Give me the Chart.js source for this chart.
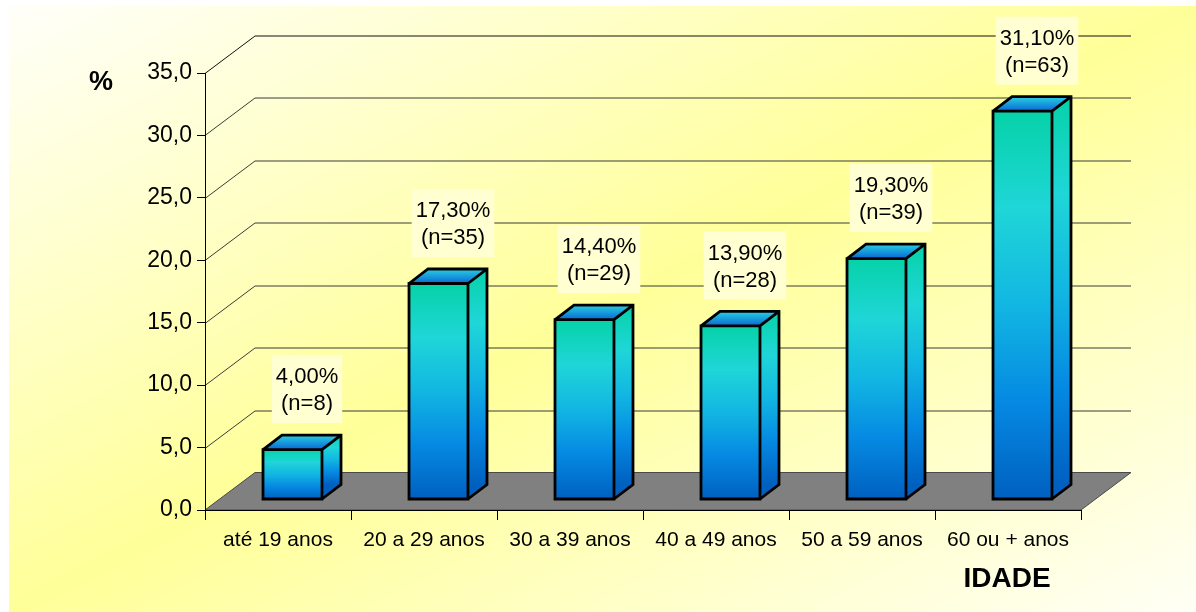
<!DOCTYPE html>
<html>
<head>
<meta charset="utf-8">
<style>
  html, body { margin: 0; padding: 0; background: #ffffff; }
  #wrap { width: 1196px; height: 612px; }
</style>
<script src="https://cdn.jsdelivr.net/npm/chart.js@4.4.1/dist/chart.umd.min.js"></script>
</head>
<body>
<div id="wrap"><canvas id="chart" width="1196" height="612"></canvas></div>
<script>
// Age groups and their share of respondents
const categories = ['até 19 anos', '20 a 29 anos', '30 a 39 anos', '40 a 49 anos', '50 a 59 anos', '60 ou + anos'];
const percentValues = [4.0, 17.3, 14.4, 13.9, 19.3, 31.1];
const counts = [8, 35, 29, 28, 39, 63];
const yTickValues = [0, 5, 10, 15, 20, 25, 30, 35];
const yAxisLabel = '%';
const xAxisLabel = 'IDADE';

const FONT = "'Liberation Sans', Arial, Helvetica, sans-serif";

// Depth of the 3D box (back wall offset) and of each bar
const WALL_DX = 50, WALL_DY = -37.5;
const BAR_FRONT_DX = 14.5, BAR_FRONT_DY = -10.5;
const BAR_SIDE_DX = 19, BAR_SIDE_DY = -14.5;

const fmtTick = v => v.toFixed(1).replace('.', ',');
const fmtPct = v => v.toFixed(2).replace('.', ',') + '%';

const backdropPlugin = {
  id: 'backdrop3d',
  beforeDraw(chart) {
    const { ctx, chartArea, scales } = chart;
    const W = chart.width, H = chart.height;
    ctx.save();
    // page background with diagonal pale-yellow band
    ctx.fillStyle = '#ffffff';
    ctx.fillRect(0, 0, W, H);
    const x0 = 9, y0 = 6, x1 = W, y1 = H;
    const cx = (x0 + x1) / 2, cy = (y0 + y1) / 2;
    const w = x1 - x0, h = y1 - y0;
    const len = Math.hypot(w, h);
    const ux = h / len, uy = w / len;
    const half = (w / 2) * ux + (h / 2) * uy;
    const g = ctx.createLinearGradient(cx - half * ux, cy - half * uy, cx + half * ux, cy + half * uy);
    g.addColorStop(0, '#fffffa');
    g.addColorStop(0.5, '#ffff99');
    g.addColorStop(1, '#fffff6');
    ctx.fillStyle = g;
    ctx.fillRect(x0, y0, w, h);

    const ys = scales.y;
    const left = chartArea.left, right = chartArea.right;
    // horizontal gridlines running along the side wall and back wall
    ctx.lineWidth = 1;
    yTickValues.forEach(v => {
      if (v === 0) return;
      const y = Math.round(ys.getPixelForValue(v)) + 0.5;
      ctx.strokeStyle = v === 35 ? '#111111' : '#3a3a3a';
      ctx.beginPath();
      ctx.moveTo(left, y);
      ctx.lineTo(left + WALL_DX, y + WALL_DY);
      ctx.lineTo(right + WALL_DX, y + WALL_DY);
      ctx.stroke();
    });

    // grey floor
    const yb = ys.getPixelForValue(0);
    ctx.fillStyle = '#808080';
    ctx.strokeStyle = '#4a4a4a';
    ctx.beginPath();
    ctx.moveTo(left, yb);
    ctx.lineTo(left + WALL_DX, yb + WALL_DY);
    ctx.lineTo(right + WALL_DX, yb + WALL_DY);
    ctx.lineTo(right, yb);
    ctx.closePath();
    ctx.fill();
    ctx.stroke();
    ctx.restore();
  }
};

function faceGradient(ctx, yTop, yBot) {
  const g = ctx.createLinearGradient(0, yTop, 0, yBot);
  g.addColorStop(0, '#06d2a8');
  g.addColorStop(0.25, '#1fd6d8');
  g.addColorStop(0.5, '#12b6e2');
  g.addColorStop(0.75, '#0589e2');
  g.addColorStop(1, '#0060c0');
  return g;
}

const bars3dPlugin = {
  id: 'bars3d',
  afterDatasetsDraw(chart) {
    const { ctx } = chart;
    const meta = chart.getDatasetMeta(0);
    ctx.save();
    ctx.lineJoin = 'miter';
    meta.data.forEach((bar, i) => {
      const fx0 = bar.x - bar.width / 2 + BAR_FRONT_DX;
      const fx1 = fx0 + bar.width;
      const yTop = bar.y + BAR_FRONT_DY;
      const yBot = bar.base + BAR_FRONT_DY;

      // side face
      ctx.beginPath();
      ctx.moveTo(fx1, yTop);
      ctx.lineTo(fx1 + BAR_SIDE_DX, yTop + BAR_SIDE_DY);
      ctx.lineTo(fx1 + BAR_SIDE_DX, yBot + BAR_SIDE_DY);
      ctx.lineTo(fx1, yBot);
      ctx.closePath();
      ctx.fillStyle = faceGradient(ctx, yTop + BAR_SIDE_DY, yBot + BAR_SIDE_DY);
      ctx.fill();

      // top face
      const tg = ctx.createLinearGradient(0, yTop, 0, yTop + BAR_SIDE_DY);
      tg.addColorStop(0, '#0868d4');
      tg.addColorStop(1, '#28cfe2');
      ctx.beginPath();
      ctx.moveTo(fx0, yTop);
      ctx.lineTo(fx1, yTop);
      ctx.lineTo(fx1 + BAR_SIDE_DX, yTop + BAR_SIDE_DY);
      ctx.lineTo(fx0 + BAR_SIDE_DX, yTop + BAR_SIDE_DY);
      ctx.closePath();
      ctx.fillStyle = tg;
      ctx.fill();

      // front face
      ctx.fillStyle = faceGradient(ctx, yTop, yBot);
      ctx.fillRect(fx0, yTop, bar.width, yBot - yTop);

      // outlines
      ctx.strokeStyle = '#000000';
      ctx.lineWidth = 2.8;
      ctx.beginPath();
      ctx.rect(fx0, yTop, bar.width, yBot - yTop);
      ctx.moveTo(fx0, yTop);
      ctx.lineTo(fx0 + BAR_SIDE_DX, yTop + BAR_SIDE_DY);
      ctx.lineTo(fx1 + BAR_SIDE_DX, yTop + BAR_SIDE_DY);
      ctx.lineTo(fx1 + BAR_SIDE_DX, yBot + BAR_SIDE_DY);
      ctx.lineTo(fx1, yBot);
      ctx.moveTo(fx1, yTop);
      ctx.lineTo(fx1 + BAR_SIDE_DX, yTop + BAR_SIDE_DY);
      ctx.stroke();

      // value label with light backdrop
      const l1 = fmtPct(percentValues[i]);
      const l2 = '(n=' + counts[i] + ')';
      ctx.font = '22px ' + FONT;
      const tw = Math.max(ctx.measureText(l1).width, ctx.measureText(l2).width);
      const lx = bar.x + 29;
      const boxBottom = yTop + BAR_SIDE_DY - 12;
      const boxTop = boxBottom - 68;
      const bw = tw + 8;
      ctx.fillStyle = '#ffffd2';
      ctx.fillRect(lx - bw / 2, boxTop, bw, boxBottom - boxTop);
      ctx.fillStyle = '#000000';
      ctx.textAlign = 'center';
      ctx.textBaseline = 'middle';
      ctx.fillText(l1, lx, boxBottom - 46);
      ctx.fillText(l2, lx, boxBottom - 19);
    });

    // axis titles
    ctx.fillStyle = '#000000';
    ctx.textAlign = 'center';
    ctx.textBaseline = 'middle';
    ctx.font = 'bold 27px ' + FONT;
    ctx.fillText(yAxisLabel, 101, 83);
    ctx.font = 'bold 28px ' + FONT;
    ctx.fillText(xAxisLabel, 1007, 579);
    ctx.restore();
  }
};

new Chart(document.getElementById('chart'), {
  type: 'bar',
  data: {
    labels: categories,
    datasets: [{
      data: percentValues,
      backgroundColor: 'rgba(0,0,0,0)',
      borderWidth: 0,
      categoryPercentage: 1,
      barPercentage: 0.404
    }]
  },
  options: {
    responsive: false,
    animation: false,
    events: [],
    layout: { padding: { left: 105, right: 115, top: 73, bottom: 42 } },
    plugins: { legend: { display: false }, tooltip: { enabled: false } },
    scales: {
      x: {
        grid: { display: true, drawOnChartArea: false, drawTicks: true, tickLength: 10, color: '#000000', offset: true },
        border: { display: true, color: '#000000', width: 1 },
        ticks: { color: '#000000', font: { family: FONT, size: 21 }, padding: 8, maxRotation: 0, autoSkip: false },
        afterFit(scale) { scale.height = 60; }
      },
      y: {
        min: 0, max: 35,
        afterBuildTicks(scale) { scale.ticks = yTickValues.map(v => ({ value: v })); },
        grid: { display: true, drawOnChartArea: false, drawTicks: true, tickLength: 8, color: '#000000' },
        border: { display: true, color: '#000000', width: 1 },
        ticks: { color: '#000000', font: { family: FONT, size: 23 }, padding: 5, callback: v => fmtTick(v) },
        afterFit(scale) { scale.width = 100; }
      }
    }
  },
  plugins: [backdropPlugin, bars3dPlugin]
});
</script>
</body>
</html>
